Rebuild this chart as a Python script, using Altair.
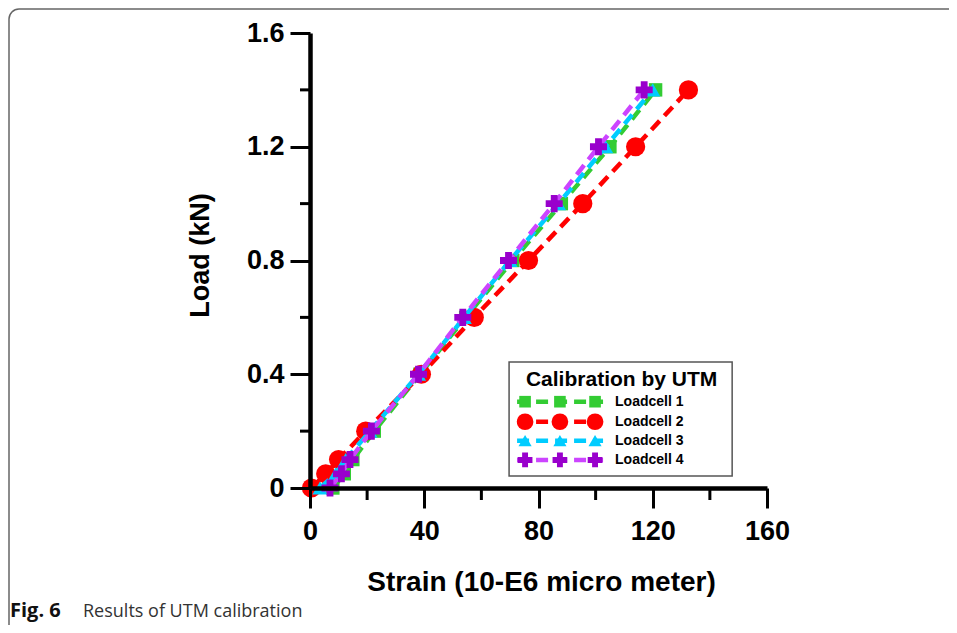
import altair as alt
import pandas as pd

# ---------------- data ----------------
loads = [0, 0.05, 0.1, 0.2, 0.4, 0.6, 0.8, 1.0, 1.2, 1.4]
loadcell1 = [8, 12, 15, 22.5, 38.5, 54.5, 71, 88, 105, 121]
loadcell2 = [0.5, 5.5, 10, 19.5, 39, 57.5, 76.5, 95.5, 114, 132.5]
loadcell3 = [3.5, 9, 12.5, 21, 38, 54, 70, 87, 103.5, 120]
loadcell4 = [7, 11, 14, 21.5, 38, 53.5, 69.5, 85.5, 101, 117]
series_names = ["Loadcell 1", "Loadcell 2", "Loadcell 3", "Loadcell 4"]
series_values = [loadcell1, loadcell2, loadcell3, loadcell4]

x_major = [0, 40, 80, 120, 160]
x_minor = [20, 60, 100, 140]
y_major = [0, 0.4, 0.8, 1.2, 1.6]
y_minor = [0.2, 0.6, 1.0, 1.4]

x_title = "Strain (10-E6 micro meter)"
y_title = "Load (kN)"
legend_title = "Calibration by UTM"
caption_bold = "Fig. 6"
caption_text = "Results of UTM calibration"

# ---------------- styles ----------------
line_colors = ["#33CC33", "#FF0000", "#00CCFF", "#CC44FF"]
marker_colors = ["#33CC33", "#FF0000", "#00CCFF", "#9900CC"]
shapes = ["square", "circle", "triangle-up", "cross"]
sizes = [180, 370, 230, 290]
DASH = [12, 7]
FONT = "Liberation Sans"

xscale = alt.Scale(domain=[0, 160], nice=False, zero=False)
yscale = alt.Scale(domain=[0, 1.6], nice=False, zero=False)

x_axis = alt.Axis(
    values=x_major, grid=False, title=x_title, zindex=2,
    domainColor="black", domainWidth=4.5,
    tickColor="black", tickWidth=3, tickSize=20,
    labelFont=FONT, labelFontWeight="bold", labelFontSize=27, labelColor="black",
    labelPadding=10, labelFlush=False, labelOverlap=False,
    titleFont=FONT, titleFontWeight="bold", titleFontSize=28, titleColor="black",
    titleX=231, titleY=102, titleAlign="center", titleBaseline="alphabetic",
)
y_axis = alt.Axis(
    values=y_major, grid=False, title=y_title, format=".1~f", zindex=2,
    domainColor="black", domainWidth=4.5,
    tickColor="black", tickWidth=3, tickSize=20,
    labelFont=FONT, labelFontWeight="bold", labelFontSize=27, labelColor="black",
    labelPadding=6, labelFlush=False, labelOverlap=False,
    titleFont=FONT, titleFontWeight="bold", titleFontSize=27, titleColor="black",
    titleX=-102, titleY=222, titleAlign="center", titleBaseline="alphabetic", titleAngle=270,
)


def X(field="strain"):
    return alt.X(f"{field}:Q", scale=xscale, axis=x_axis)


def Y(field="load"):
    return alt.Y(f"{field}:Q", scale=yscale, axis=y_axis)


layers = []
series_tables = [pd.DataFrame({"strain": vals, "load": loads}) for vals in series_values]

# minor ticks
layers.append(
    alt.Chart(pd.DataFrame({"strain": x_minor})).mark_rule(color="black", strokeWidth=3)
    .encode(x=X(), y=alt.value(455), y2=alt.value(467))
)
layers.append(
    alt.Chart(pd.DataFrame({"load": y_minor})).mark_rule(color="black", strokeWidth=3)
    .encode(y=Y(), x=alt.value(0), x2=alt.value(-10))
)

# data series: line then markers, series by series
for i, df in enumerate(series_tables):
    layers.append(
        alt.Chart(df).mark_line(color=line_colors[i], strokeWidth=4.5, strokeDash=DASH)
        .encode(x=X(), y=Y(), order="load:Q")
    )
    layers.append(
        alt.Chart(df).mark_point(shape=shapes[i], filled=True, size=sizes[i],
                                 color=marker_colors[i], opacity=1, strokeWidth=0)
        .encode(x=X(), y=Y())
    )

# legend (drawn in data coordinates)
legend_box = pd.DataFrame({"strain": [69.7], "lx2": [147.8], "load": [0.443], "ly2": [0.042]})
layers.append(
    alt.Chart(legend_box).mark_rect(fill="white", stroke="#555555", strokeWidth=1.5)
    .encode(x=X(), x2="lx2:Q", y=Y(), y2="ly2:Q")
)
layers.append(
    alt.Chart(pd.DataFrame({"strain": [109.1], "load": [0.38]}))
    .mark_text(text=legend_title, font=FONT, fontWeight="bold", fontSize=21, color="black",
               align="center", baseline="middle")
    .encode(x=X(), y=Y())
)
row_y = [0.3035, 0.233, 0.1664, 0.0985]
marker_x = [75.3, 87.5, 99.8]
for i, name in enumerate(series_names):
    layers.append(
        alt.Chart(pd.DataFrame({"strain": [72.5], "b": [102.6], "load": [row_y[i]]}))
        .mark_rule(color=line_colors[i], strokeWidth=4.5, strokeDash=DASH)
        .encode(x=X(), x2="b:Q", y=Y())
    )
    layers.append(
        alt.Chart(pd.DataFrame({"strain": marker_x, "load": [row_y[i]] * 3}))
        .mark_point(shape=shapes[i], filled=True, size=sizes[i] * 0.75,
                    color=marker_colors[i], opacity=1, strokeWidth=0)
        .encode(x=X(), y=Y())
    )
    layers.append(
        alt.Chart(pd.DataFrame({"strain": [106.8], "load": [row_y[i]], "lab": [name]}))
        .mark_text(font=FONT, fontWeight="bold", fontSize=14, color="black",
                   align="left", baseline="middle")
        .encode(x=X(), y=Y(), text="lab:N")
    )

# frame around the figure and caption
dummy = pd.DataFrame({"k": [0]})
layers.append(
    alt.Chart(dummy).mark_rect(fill="transparent", stroke="#666666", strokeWidth=1.5, cornerRadius=10)
    .encode(x=alt.value(-301), y=alt.value(-24), x2=alt.value(900), y2=alt.value(800))
)
layers.append(
    alt.Chart(dummy).mark_text(text=caption_bold, font="Open Sans", fontWeight="bold", fontSize=20,
                               color="#111111", align="left", baseline="alphabetic")
    .encode(x=alt.value(-300), y=alt.value(584))
)
layers.append(
    alt.Chart(dummy).mark_text(text=caption_text, font="Open Sans", fontSize=18,
                               color="#333333", align="left", baseline="alphabetic")
    .encode(x=alt.value(-227), y=alt.value(584))
)

chart = (
    alt.layer(*layers)
    .properties(
        width=457, height=455,
        autosize=alt.AutoSizeParams(type="none"),
        padding={"left": 302, "top": 25, "right": 182, "bottom": 137},
        background="white",
    )
    .configure_view(stroke=None)
)

chart.save("out.html", embed_options={"renderer": "svg", "actions": False})
